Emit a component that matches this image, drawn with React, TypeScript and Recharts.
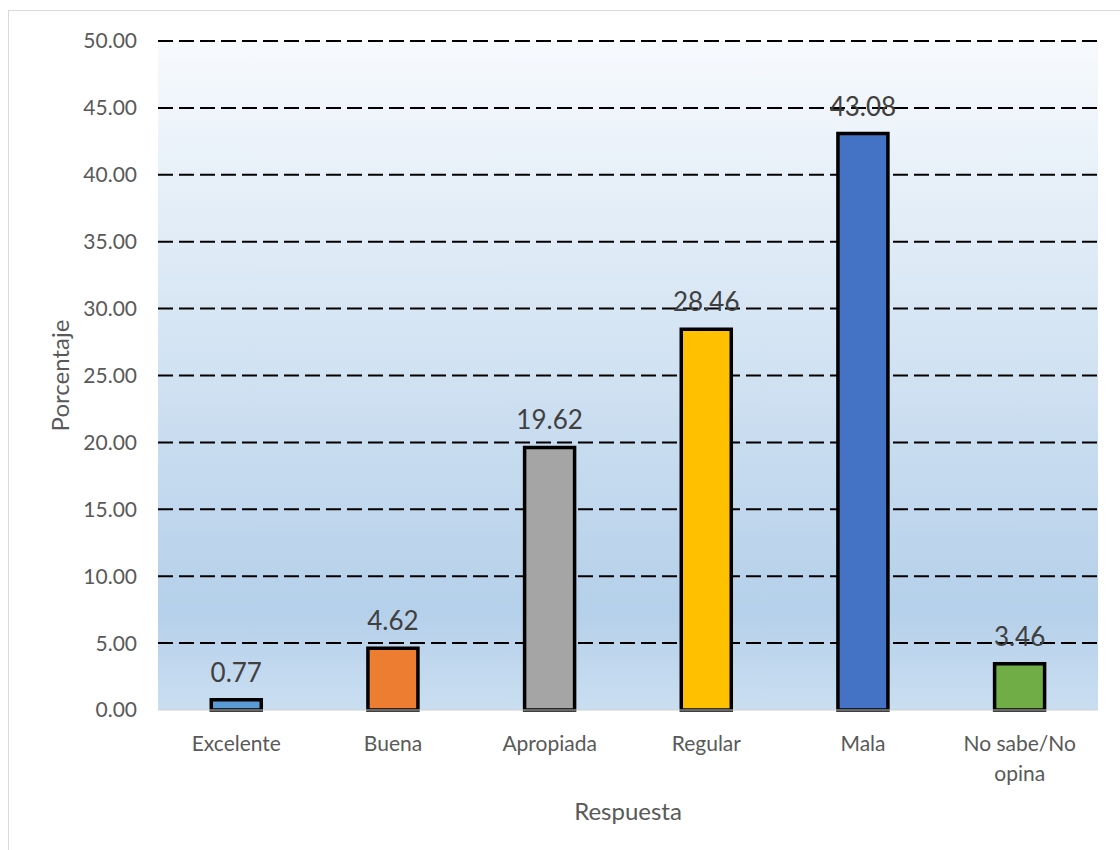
import { Bar, BarChart, CartesianGrid, Cell, LabelList, Label, XAxis, YAxis } from "recharts";

const categories = ["Excelente", "Buena", "Apropiada", "Regular", "Mala", "No sabe/No opina"];
const percentages = [0.77, 4.62, 19.62, 28.46, 43.08, 3.46];
const barColors = ["#5b9bd5", "#ed7d31", "#a5a5a5", "#ffc000", "#4472c4", "#70ad47"];
const yTicks = [0, 5, 10, 15, 20, 25, 30, 35, 40, 45, 50];

const data = categories.map((name, i) => ({ name, value: percentages[i] }));

const FONT = "Lato, 'Open Sans', sans-serif";

// long category names break after "No sabe/No"
const splitLabel = (s: string) => (s.length > 12 ? [s.slice(0, s.lastIndexOf(" ")), s.slice(s.lastIndexOf(" ") + 1)] : [s]);

function CategoryTick({ x, y, payload }: any) {
	const lines = splitLabel(String(payload.value));
	return (
		<text
			x={x}
			y={y + 33}
			textAnchor="middle"
			fontSize={21}
			fontFamily={FONT}
			fill="#595959"
		>
			{lines.map((line, i) => (
				<tspan key={i} x={x} dy={i === 0 ? 0 : 30}>
					{line}
				</tspan>
			))}
		</text>
	);
}

export default function App() {
	return (
		<div style={{ position: "absolute", left: 0, top: 0, width: 1120, height: 850, background: "#fff", overflow: "hidden" }}>
			<div
				style={{
					position: "absolute",
					left: 8,
					top: 10,
					width: 1120,
					height: 850,
					border: "1px solid #d9d9d9",
				}}
			/>
			<div style={{ position: "absolute", left: 0, top: 0 }}>
				<BarChart
					width={1120}
					height={850}
					data={data}
					margin={{ top: 41, right: 22, bottom: 0, left: 0 }}
					barCategoryGap="34%"
				>
					<defs>
						<linearGradient id="plotBg" x1="0" y1="0" x2="0" y2="1">
							<stop offset="0%" stopColor="#f7fafd" />
							<stop offset="85%" stopColor="#b5d0ea" />
							<stop offset="100%" stopColor="#cadef1" />
						</linearGradient>
					</defs>
					<CartesianGrid
						vertical={false}
						fill="url(#plotBg)"
						fillOpacity={1}
						horizontalValues={yTicks.filter((t) => t > 0)}
						stroke="#000"
						strokeWidth={2}
						strokeDasharray="15 6"
					/>
					<XAxis
						dataKey="name"
						height={140}
						tickLine={false}
						axisLine={{ stroke: "#d0d0d0", strokeWidth: 1 }}
						interval={0}
						tick={<CategoryTick />}
					>
						<Label
							value="Respuesta"
							position="insideBottom"
							offset={30}
							fontSize={24}
							fontFamily={FONT}
							fill="#595959"
						/>
					</XAxis>
					<YAxis
						width={158}
						domain={[0, 50]}
						ticks={yTicks}
						tickFormatter={(v: number) => v.toFixed(2)}
						tickLine={false}
						axisLine={false}
						tickSize={0}
						tickMargin={21}
						tick={{ fontSize: 21, fontFamily: FONT, fill: "#595959" }}
					>
						<Label
							value="Porcentaje"
							angle={-90}
							position="insideLeft"
							offset={60}
							textAnchor="middle"
							fontSize={24}
							fontFamily={FONT}
							fill="#595959"
						/>
					</YAxis>
					<Bar dataKey="value" stroke="#000" strokeWidth={3.5} isAnimationActive={false}>
						{data.map((d, i) => (
							<Cell key={d.name} fill={barColors[i]} />
						))}
						<LabelList
							dataKey="value"
							position="top"
							offset={18}
							formatter={(v: any) => Number(v).toFixed(2)}
							fontSize={26}
							fontFamily={FONT}
							fill="#404040"
						/>
					</Bar>
				</BarChart>
			</div>
		</div>
	);
}
